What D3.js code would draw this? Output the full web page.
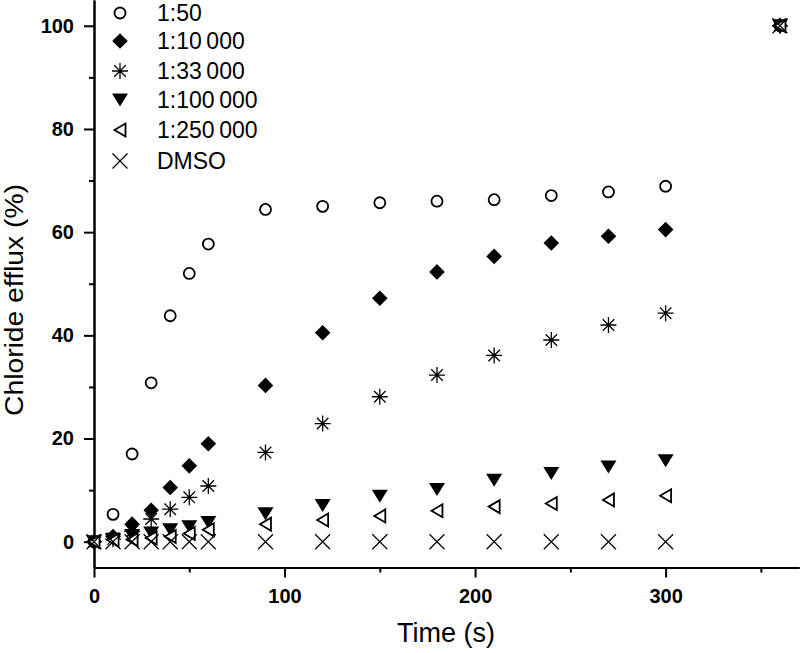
<!DOCTYPE html>
<html>
<head>
<meta charset="utf-8">
<script src="https://cdn.jsdelivr.net/npm/d3@7"></script>
<style>
html,body{margin:0;padding:0;background:#fff;}
svg{display:block;font-family:"Liberation Sans",Arial,Helvetica,sans-serif;}
</style>
</head>
<body>
<svg id="chart" width="800" height="653"></svg>
<script>
const time = [0,10,20,30,40,50,60,90,120,150,180,210,240,270,300,360];
const s50 = [0,5.3,17.0,30.8,43.8,52.0,57.7,64.4,65.0,65.7,66.0,66.3,67.1,67.8,68.9,100];
const s10k = [0,1.0,3.4,6.1,10.5,14.7,19.0,30.3,40.5,47.2,52.3,55.3,57.9,59.2,60.5,100];
const s33k = [0,0.5,2.0,4.4,6.3,8.6,10.8,17.3,22.9,28.1,32.3,36.1,39.1,42.0,44.3,100];
const s100k = [0,0.5,1.2,1.7,2.3,2.9,3.7,5.4,7.0,8.8,10.1,11.9,13.2,14.5,15.7,100];
const s250k = [0,0.3,0.4,0.7,1.0,1.6,2.3,3.4,4.2,5.0,6.0,6.8,7.4,8.1,8.9,100];
const dmso = [0,0,0,0,0,0,0,0,0,0,0,0,0,0,0,100];
const seriesNames = ["1:50","1:10\u2009000","1:33\u2009000","1:100\u2009000","1:250\u2009000","DMSO"];
const seriesSymbols = ["circle","diamond","star","triDown","triLeft","cross"];
const seriesValues = [s50,s10k,s33k,s100k,s250k,dmso];
const xMajorTicks = [0,100,200,300];
const xMinorTicks = [50,150,250,350];
const yMajorTicks = [0,20,40,60,80,100];
const yMinorTicks = [10,30,50,70,90];

const svg = d3.select("#chart");
const x = d3.scaleLinear().domain([0,370]).range([94,799]);
const y = d3.scaleLinear().domain([-5,105]).range([567.5,0]);

// symbol drawing
function drawSymbol(g, type, cx, cy){
  const s = g.append("g").attr("transform", `translate(${cx},${cy})`);
  if(type==="circle"){
    s.append("circle").attr("r",5.5).attr("fill","#fff").attr("stroke","#000").attr("stroke-width",1.8);
  } else if(type==="diamond"){
    const r=7.8;
    s.append("path").attr("d",`M0,${-r}L${r},0L0,${r}L${-r},0Z`).attr("fill","#000");
  } else if(type==="star"){
    const r=8, d=r*0.72;
    s.append("path").attr("d",`M0,${-r}V${r}M${-r},0H${r}M${-d},${-d}L${d},${d}M${-d},${d}L${d},${-d}`)
      .attr("stroke","#000").attr("stroke-width",1.3).attr("fill","none");
  } else if(type==="triDown"){
    s.append("path").attr("d","M-8,-6.5L8,-6.5L0,6.5Z").attr("fill","#000");
  } else if(type==="triLeft"){
    s.append("path").attr("d","M-5.5,0L5.5,-6.5L5.5,6.5Z").attr("fill","#fff").attr("stroke","#000").attr("stroke-width",1.8).attr("stroke-linejoin","miter");
  } else if(type==="cross"){
    const r=7.5;
    s.append("path").attr("d",`M${-r},${-r}L${r},${r}M${-r},${r}L${r},${-r}`).attr("stroke","#000").attr("stroke-width",1.2).attr("fill","none");
  }
}

// axes
const xAxis = d3.axisBottom(x).tickValues(xMajorTicks).tickSize(10).tickSizeOuter(0).tickPadding(11).tickFormat(d3.format("d"));
const xAxisMinor = d3.axisBottom(x).tickValues(xMinorTicks).tickSize(5).tickSizeOuter(0).tickFormat("");
const yAxis = d3.axisLeft(y).tickValues(yMajorTicks).tickSize(10).tickSizeOuter(0).tickPadding(10).tickFormat(d3.format("d"));
const yAxisMinor = d3.axisLeft(y).tickValues(yMinorTicks).tickSize(5).tickSizeOuter(0).tickFormat("");

function styleAxis(g){
  g.selectAll("path.domain").attr("stroke","#000").attr("stroke-width",2);
  g.selectAll("line").attr("stroke","#000").attr("stroke-width",2);
  g.selectAll("text").attr("fill","#000").style("font-size","20px").style("font-weight","bold")
    .style("font-family",'"Liberation Sans",Arial,sans-serif');
}
const gx = svg.append("g").attr("transform",`translate(0,${y(-5)})`).call(xAxis); styleAxis(gx);
const gxm = svg.append("g").attr("transform",`translate(0,${y(-5)})`).call(xAxisMinor); styleAxis(gxm);
const gy = svg.append("g").attr("transform",`translate(${x(0)},0)`).call(yAxis); styleAxis(gy);
const gym = svg.append("g").attr("transform",`translate(${x(0)},0)`).call(yAxisMinor); styleAxis(gym);

// axis labels
svg.append("text").attr("x",446).attr("y",642).attr("text-anchor","middle")
  .style("font-size","27px").text("Time (s)");
svg.append("text").attr("transform","translate(23,300) rotate(-90)").attr("text-anchor","middle")
  .attr("textLength",232).attr("lengthAdjust","spacingAndGlyphs")
  .style("font-size","25px").text("Chloride efflux (%)");

// points
const plot = svg.append("g");
seriesValues.forEach((vals,i)=>{
  const g = plot.append("g");
  vals.forEach((v,j)=> drawSymbol(g, seriesSymbols[i], x(time[j]), y(v)));
});

// legend
const legendY = [13,41,71,100,130,161];
const leg = svg.append("g");
seriesNames.forEach((n,i)=>{
  drawSymbol(leg, seriesSymbols[i], 120, legendY[i]);
  leg.append("text").attr("x",157).attr("y",legendY[i]).attr("dy","0.36em")
    .style("font-size","23px").text(n);
});
</script>
</body>
</html>
